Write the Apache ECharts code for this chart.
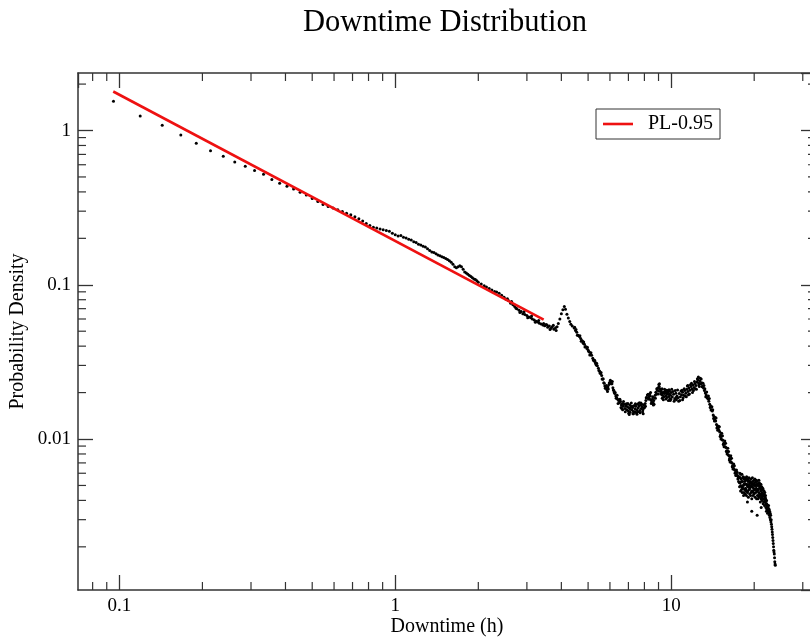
<!DOCTYPE html>
<html><head><meta charset="utf-8">
<script src="https://cdn.jsdelivr.net/npm/echarts@6/dist/echarts.min.js"></script>
<style>html,body{margin:0;padding:0;background:#fff}#c{width:810px;height:639px}</style>
</head><body><div id="c"></div>
<script>
// ---- data (downtime in hours, probability density) ----
const titleText = 'Downtime Distribution';
const xName = 'Downtime (h)';
const yName = 'Probability Density';
const legendName = 'PL-0.95';
const xMinorTicks = [0.08,0.09,0.2,0.3,0.4,0.5,0.6,0.7,0.8,0.9,2,3,4,5,6,7,8,9,20,30];
const yMinorTicks = [0.002,0.003,0.004,0.005,0.006,0.007,0.008,0.009,0.02,0.03,0.04,0.05,0.06,0.07,0.08,0.09,0.2,0.3,0.4,0.5,0.6,0.7,0.8,0.9,2];
const powerLawFit = [[0.095,1.79],[3.45,0.0595]];

const pointsShort = [[0.0952,1.55],[0.119,1.24],[0.143,1.08],[0.167,0.935],[0.190,0.828],[0.214,0.738],[0.238,0.681],[0.262,0.626],[0.286,0.587],[0.309,0.551],[0.333,0.521],[0.357,0.482],[0.381,0.455],[0.405,0.436],[0.428,0.418],[0.452,0.398],[0.476,0.382],[0.500,0.362],[0.524,0.346],[0.547,0.332],[0.571,0.322],[0.595,0.314],[0.619,0.306],[0.643,0.299],[0.666,0.291],[0.690,0.284],[0.714,0.276],[0.738,0.268],[0.762,0.259],[0.785,0.250],[0.809,0.242],[0.833,0.236],[0.857,0.233],[0.881,0.230],[0.904,0.227],[0.928,0.225],[0.952,0.222],[0.976,0.216],[1.000,0.211]];

const pointsMid = [[1.024,0.207],[1.048,0.209],[1.071,0.203],[1.095,0.201],[1.119,0.197],[1.143,0.195],[1.167,0.190],[1.190,0.188],[1.214,0.183],[1.238,0.181],[1.262,0.178],[1.286,0.176],[1.309,0.171],[1.333,0.167],[1.357,0.163],[1.381,0.162],[1.405,0.159],[1.428,0.156],[1.452,0.154],[1.476,0.152],[1.500,0.150],[1.524,0.148],[1.547,0.146],[1.571,0.143],[1.595,0.140],[1.619,0.136],[1.643,0.131],[1.666,0.129],[1.690,0.131],[1.714,0.133],[1.738,0.131],[1.762,0.126],[1.785,0.121],[1.809,0.119],[1.833,0.117],[1.857,0.115],[1.881,0.113],[1.904,0.111],[1.928,0.109],[1.952,0.108],[1.976,0.106],[2.000,0.104],
[2.05,0.101],[2.10,0.0985],[2.14,0.0968],[2.19,0.0945],[2.24,0.0925],[2.29,0.0905],[2.33,0.0898],[2.38,0.0880],[2.43,0.0855],[2.48,0.0830],[2.52,0.0805],[2.57,0.0790],[2.62,0.0760],[2.67,0.0742],[2.71,0.0722],[2.76,0.0700],[2.81,0.0683],[2.86,0.0672],[2.90,0.0650],[2.95,0.0641],[3.00,0.0632],[3.05,0.0618],[3.10,0.0612],[3.14,0.0600],[3.19,0.0592],[3.24,0.0580],[3.29,0.0573],[3.33,0.0562],[3.38,0.0556],[3.43,0.0548],[3.48,0.0542],[3.52,0.0552],[3.57,0.0530],[3.62,0.0541],[3.67,0.0522],[3.71,0.0535],[3.76,0.0515],[3.81,0.0527],[3.86,0.0534],[3.90,0.0560],[3.95,0.0600],[4.00,0.0648],[4.05,0.0690],[4.10,0.0722],[4.14,0.0695],[4.19,0.0645],[4.24,0.0610],[4.29,0.0578],[4.33,0.0555],[4.38,0.0540],
[2.55,0.0812],[2.64,0.0778],[2.74,0.0705],[2.83,0.0662],[2.93,0.0668],[3.02,0.0612],[3.12,0.0628],[3.22,0.0572],[3.31,0.0586],[3.45,0.0560],[3.55,0.0548],[3.64,0.0512],[3.74,0.0546],[3.83,0.0505]];

const pointsDrop = [[4.45,0.0525],[4.50,0.0505],[4.55,0.0492],[4.60,0.0470],[4.65,0.0462],[4.70,0.0448],[4.75,0.0436],[4.80,0.0418],[4.85,0.0412],[4.90,0.0398],[4.95,0.0386],[5.00,0.0378],[5.05,0.0366],[5.10,0.0352],[5.15,0.0349],[5.20,0.0334],[5.25,0.0322],[5.30,0.0316],[5.35,0.0302],[5.40,0.0298],[5.45,0.0288],[5.50,0.0276],[5.55,0.0266],[5.60,0.0258],[5.65,0.0244],[5.70,0.0232],[5.75,0.0221],[5.80,0.0214],[5.85,0.0209],[5.90,0.0218],[5.95,0.0226],[6.00,0.0232],[6.05,0.0237],[6.10,0.0228],[6.15,0.0215],[6.20,0.0206],[6.25,0.0197],[6.30,0.0190],[6.35,0.0185],[6.40,0.0181],[4.52,0.0512],[4.78,0.0428],[5.02,0.0370],[5.28,0.0324],[5.52,0.0268],[5.72,0.0230],[5.88,0.0203],[6.02,0.0240],[6.22,0.0200],
[4.47,0.0530],[4.57,0.0470],[4.67,0.0468],[4.72,0.0430],[4.82,0.0425],[4.87,0.0395],[4.97,0.0393],[5.07,0.0350],[5.12,0.0362],[5.22,0.0325],[5.32,0.0309],[5.37,0.0310],[5.47,0.0278],[5.57,0.0270],[5.62,0.0245],[5.67,0.0246],[5.77,0.0213],[5.82,0.0222],[5.92,0.0211],[5.97,0.0232],[6.07,0.0228],[6.12,0.0236],[6.17,0.0208],[6.27,0.0200],[6.32,0.0184],[6.37,0.0192]];

const pointsValley = [[6.45,0.0178],[6.50,0.0172],[6.55,0.0176],[6.60,0.0166],[6.65,0.0170],[6.70,0.0163],[6.75,0.0168],[6.80,0.0158],[6.85,0.0164],[6.90,0.0155],[6.95,0.0161],[7.00,0.0152],[7.05,0.0159],[7.10,0.0149],[7.15,0.0162],[7.20,0.0155],[7.25,0.0160],[7.30,0.0151],[7.35,0.0165],[7.40,0.0157],[7.45,0.0163],[7.50,0.0154],[7.55,0.0168],[7.60,0.0159],[7.65,0.0164],[7.70,0.0153],[7.75,0.0166],[7.80,0.0158],[7.85,0.0162],[7.90,0.0155],[7.95,0.0167],[8.00,0.0160],[8.05,0.0170],[8.10,0.0178],[8.15,0.0186],[8.20,0.0193],[6.58,0.0160],[6.88,0.0169],[7.12,0.0156],[7.38,0.0150],[7.62,0.0170],[7.88,0.0150],[7.08,0.0166],[7.48,0.0148],[7.05,0.0144],[7.30,0.0146],
[6.42,0.0170],[6.52,0.0181],[6.62,0.0158],[6.72,0.0175],[6.82,0.0150],[6.92,0.0168],[7.02,0.0147],[7.17,0.0171],[7.27,0.0146],[7.42,0.0169],[7.52,0.0145],[7.67,0.0172],[7.72,0.0148],[7.82,0.0168],[7.92,0.0146],[7.97,0.0159],[8.07,0.0163],[8.12,0.0185],[6.67,0.0155],[6.97,0.0170],[7.22,0.0163],[7.57,0.0150],[7.77,0.0171]];

const pointsPlateau = [[8.25,0.0195],[8.30,0.0188],[8.35,0.0182],[8.40,0.0190],[8.45,0.0179],[8.50,0.0174],[8.55,0.0181],[8.60,0.0172],[8.65,0.0178],[8.70,0.0185],[8.75,0.0192],[8.80,0.0201],[8.85,0.0196],[8.90,0.0208],[8.95,0.0214],[9.00,0.0205],[9.05,0.0219],[9.10,0.0212],[9.15,0.0203],[9.20,0.0208],[9.25,0.0198],[9.30,0.0192],[9.35,0.0201],[9.40,0.0188],[9.45,0.0197],[9.50,0.0204],[9.55,0.0191],[9.60,0.0199],[9.65,0.0186],[9.70,0.0195],[9.75,0.0202],[9.80,0.0189],[9.85,0.0196],[9.90,0.0183],[9.95,0.0192],[10.0,0.0200],[10.1,0.0187],[10.2,0.0195],[10.3,0.0182],[10.4,0.0198],[10.5,0.0190],[10.6,0.0185],[10.7,0.0197],[10.8,0.0188],[10.9,0.0194],[11.0,0.0201],[11.1,0.0192],[11.2,0.0206],[11.3,0.0198],[11.4,0.0210],[11.5,0.0203],[11.6,0.0214],[11.7,0.0207],[11.8,0.0219],[11.9,0.0211],[12.0,0.0224],[12.1,0.0216],[12.2,0.0229],[12.3,0.0222],[12.4,0.0234],[12.5,0.0241],[12.6,0.0230],[12.7,0.0238],[12.8,0.0228],[12.9,0.0232],[13.0,0.0221],[13.1,0.0214],[13.2,0.0206],[13.3,0.0199],[13.4,0.0193],[13.5,0.0185],
[8.42,0.0200],[8.62,0.0166],[9.02,0.0226],[9.28,0.0184],[9.62,0.0207],[9.92,0.0178],[10.15,0.0203],[10.45,0.0180],[10.75,0.0178],[11.05,0.0185],[11.25,0.0190],[11.55,0.0194],[11.75,0.0225],[12.05,0.0206],[12.25,0.0212],[12.45,0.0246],[12.65,0.0219],[12.85,0.0245],[13.05,0.0230],[13.25,0.0212],[11.45,0.0221],[10.95,0.0207],[10.35,0.0206],[9.82,0.0209],
[8.27,0.0182],[8.37,0.0196],[8.47,0.0170],[8.57,0.0188],[8.67,0.0168],[8.77,0.0184],[8.87,0.0212],[8.97,0.0196],[9.07,0.0228],[9.17,0.0196],[9.27,0.0212],[9.37,0.0180],[9.47,0.0210],[9.57,0.0182],[9.67,0.0206],[9.77,0.0178],[9.87,0.0205],[9.97,0.0181],[10.05,0.0210],[10.25,0.0176],[10.4,0.0186],[10.55,0.0208],[10.65,0.0176],[10.85,0.0205],[11.0,0.0180],[11.15,0.0212],[11.35,0.0188],[11.5,0.0222],[11.65,0.0196],[11.85,0.0230],[11.95,0.0200],[12.15,0.0236],[12.35,0.0210],[12.55,0.0252],[12.6,0.0224],[12.75,0.0248],[12.95,0.0218],[13.15,0.0222],[13.35,0.0188],[13.45,0.0202]];

const pointsFall = [[13.6,0.0182],[13.7,0.0176],[13.8,0.0168],[13.9,0.0164],[14.0,0.0155],[14.1,0.0152],[14.2,0.0143],[14.3,0.0140],[14.4,0.0133],[14.5,0.0131],[14.6,0.0124],[14.7,0.0122],[14.8,0.0117],[14.9,0.0114],[15.0,0.0111],[15.1,0.0106],[15.2,0.0104],[15.3,0.0099],[15.4,0.0098],[15.5,0.0094],[15.6,0.0093],[15.7,0.0089],[15.8,0.0088],[15.9,0.0084],[16.0,0.0083],[16.1,0.0079],[16.2,0.0078],[16.3,0.0075],[16.4,0.0074],[16.5,0.0071],[16.6,0.0070],[16.7,0.0067],[16.8,0.0066],[16.9,0.0064],[17.0,0.0063],[17.1,0.0061],[17.2,0.0060],[17.3,0.0058],[17.4,0.0058],[17.5,0.0056],[17.6,0.0056],
[13.75,0.0183],[13.95,0.0154],[14.15,0.0155],[14.35,0.0131],[14.55,0.0137],[14.75,0.0114],[14.95,0.0120],[15.15,0.0100],[15.35,0.0105],[15.55,0.0089],[15.75,0.0094],[15.95,0.0080],[16.15,0.0083],[16.35,0.0071],[16.55,0.0075],[16.75,0.0064],[16.95,0.0067],[17.15,0.0058],[17.35,0.0061],[17.55,0.0053],
[13.65,0.0190],[13.85,0.0160],[14.05,0.0162],[14.25,0.0136],[14.45,0.0138],[14.65,0.0118],[14.85,0.0121],[15.05,0.0104],[15.25,0.0109],[15.45,0.0092],[15.65,0.0097],[15.85,0.0083],[16.05,0.0087],[16.25,0.0073],[16.45,0.0078],[16.65,0.0066],[16.85,0.0069],[17.05,0.0060],[17.25,0.0063],[17.45,0.0055]];

const pointsShoulder = [[17.65,0.0057],[17.70,0.0049],[17.75,0.0060],[17.80,0.0052],[17.85,0.0046],[17.90,0.0059],[17.95,0.0055],[18.00,0.0047],[18.05,0.0059],[18.10,0.0045],[18.15,0.0053],[18.20,0.0048],[18.25,0.0057],[18.30,0.0043],[18.35,0.0051],[18.40,0.0055],[18.45,0.0047],[18.50,0.0056],[18.55,0.0044],[18.60,0.0048],[18.65,0.0054],[18.70,0.0046],[18.75,0.0043],[18.80,0.0051],[18.85,0.0055],[18.90,0.0045],[18.95,0.0049],[19.00,0.0053],[19.05,0.0042],[19.10,0.0050],[19.15,0.0056],[19.20,0.0047],[19.25,0.0044],[19.30,0.0052],[19.35,0.0049],[19.40,0.0043],[19.45,0.0055],[19.50,0.0045],[19.55,0.0052],[19.60,0.0041],[19.65,0.0049],[19.70,0.0056],[19.75,0.0046],[19.80,0.0043],[19.85,0.0051],[19.90,0.0048],[19.95,0.0054],[20.00,0.0044],[20.05,0.0047],[20.10,0.0055],[20.15,0.0042],[20.20,0.0050],[20.25,0.0045],[20.30,0.0053],[20.35,0.0048],[20.40,0.0041],[20.45,0.0051],[20.50,0.0053],[20.55,0.0043],[20.60,0.0047],[20.65,0.0041],[20.70,0.0051],[20.75,0.0045],[20.80,0.0054],[20.85,0.0042],[20.90,0.0049],[20.95,0.0044],[21.00,0.0050],[21.05,0.0039],[21.10,0.0046],[21.15,0.0051],[21.20,0.0041],[21.25,0.0044],[21.30,0.0049],[21.35,0.0040],[21.40,0.0047],[21.45,0.0043],[21.50,0.0047],[21.55,0.0038],[21.60,0.0043],[21.65,0.0039],[21.70,0.0046],[21.75,0.0041],[21.80,0.0037],[21.85,0.0045],[21.90,0.0042],[21.95,0.0039],[22.00,0.0041],[22.05,0.0036],[22.10,0.0040],[22.15,0.0034],[22.20,0.0038],[22.25,0.0035],[22.30,0.0037],[22.35,0.0033],[22.40,0.0035],
[17.68,0.0052],[17.78,0.0056],[17.88,0.0050],[17.98,0.0053],[18.08,0.0049],[18.18,0.0056],[18.28,0.0050],[18.38,0.0045],[18.48,0.0053],[18.58,0.0051],[18.68,0.0047],[18.78,0.0057],[18.88,0.0050],[18.98,0.0046],[19.08,0.0054],[19.18,0.0051],[19.28,0.0048],[19.38,0.0053],[19.48,0.0050],[19.58,0.0046],[19.68,0.0051],[19.78,0.0053],[19.88,0.0045],[19.98,0.0050],[20.08,0.0052],[20.18,0.0047],[20.28,0.0050],[20.38,0.0054],[20.48,0.0046],[20.58,0.0050],[20.68,0.0047],[20.78,0.0043],[20.88,0.0052],[20.98,0.0048],[21.08,0.0043],[21.18,0.0047],[21.28,0.0042],[21.38,0.0045],[21.48,0.0048],[21.58,0.0041],[21.68,0.0044],[21.78,0.0043],[21.88,0.0040],[21.98,0.0043],[22.08,0.0038],[22.18,0.0040],[22.28,0.0036],[22.38,0.0037],
[19.6,0.0034],[20.5,0.0032],[18.9,0.0039],[21.2,0.0036]];

const pointsTail = [[22.45,0.0036],[22.50,0.0034],[22.55,0.0037],[22.60,0.0033],[22.65,0.0035],[22.70,0.0032],[22.75,0.0034],[22.80,0.0031],[22.85,0.0033],[22.90,0.0030],[22.95,0.0032],[23.00,0.0029],[23.05,0.0030],[23.10,0.0028],[23.15,0.0027],[23.20,0.0026],[23.25,0.0025],[23.30,0.0024],[23.35,0.0023],[23.40,0.0022],[23.45,0.0021],[23.50,0.0020],[23.55,0.0019],[23.60,0.00185],[23.65,0.0018],[23.70,0.0017],[23.75,0.0016],[23.80,0.00155],[23.85,0.00152]];

const scatterData = [].concat(pointsShort, pointsMid, pointsDrop, pointsValley, pointsPlateau, pointsFall, pointsShoulder, pointsTail);

// ---- style ----
const FONT = 'Liberation Serif';
const AX = '#333';
const MAJOR = 15, MINOR = 8;
const X_MIN = 0.0708, X_MAX = 33.5, Y_MIN = 0.00105, Y_MAX = 2.36;

function fmt(v) {
  const l = Math.log10(v);
  if (Math.abs(l - Math.round(l)) > 1e-6) return '';
  return String(+Number(v).toPrecision(4));
}

const baseAxis = {
  type: 'log', logBase: 10,
  axisLine: { show: true, onZero: false, lineStyle: { color: AX, width: 1.5 } },
  axisTick: { show: true, inside: true, length: MAJOR, lineStyle: { color: AX, width: 1.3 } },
  splitLine: { show: false },
  minorTick: { show: false }
};

function minorXItem(params, api) {
  const cs = params.coordSys;
  const x = api.coord([api.value(0), 1])[0];
  const yb = cs.y + cs.height, yt = cs.y;
  const st = { stroke: AX, lineWidth: 1.2 };
  return { type: 'group', children: [
    { type: 'line', shape: { x1: x, y1: yb, x2: x, y2: yb - MINOR }, style: st },
    { type: 'line', shape: { x1: x, y1: yt, x2: x, y2: yt + MINOR }, style: st }
  ]};
}
function minorYItem(params, api) {
  const cs = params.coordSys;
  const y = api.coord([1, api.value(1)])[1];
  const xl = cs.x, xr = cs.x + cs.width;
  const st = { stroke: AX, lineWidth: 1.2 };
  return { type: 'group', children: [
    { type: 'line', shape: { x1: xl, y1: y, x2: xl + MINOR, y2: y }, style: st },
    { type: 'line', shape: { x1: xr, y1: y, x2: xr - MINOR, y2: y }, style: st }
  ]};
}

const chart = echarts.init(document.getElementById('c'), null, { renderer: 'canvas' });
chart.setOption({
  animation: false,
  backgroundColor: '#fff',
  title: {
    text: titleText, left: 440, top: 2, textAlign: 'center',
    textStyle: { fontFamily: FONT, fontSize: 30.5, fontWeight: 'normal', color: '#000' }
  },
  legend: {
    data: [legendName], left: 596, top: 109, icon: 'rect',
    padding: [5, 7, 5, 7], itemWidth: 30, itemHeight: 2.6,
    borderColor: AX, borderWidth: 1, backgroundColor: '#fff',
    textStyle: { fontFamily: FONT, fontSize: 20, color: '#000', padding: [0, 0, 0, 10] }
  },
  grid: { left: 78, right: -6, top: 73, bottom: 49, outerBoundsMode: 'none', containLabel: false },
  xAxis: [
    Object.assign({}, baseAxis, {
      position: 'bottom', min: X_MIN, max: X_MAX,
      name: xName, nameLocation: 'middle', nameGap: 27, nameMoveOverlap: false,
      nameTextStyle: { fontFamily: FONT, fontSize: 20, color: '#000' },
      axisLabel: { show: true, formatter: fmt, margin: 7, fontFamily: FONT, fontSize: 19, color: '#000', showMinLabel: false, showMaxLabel: false }
    }),
    Object.assign({}, baseAxis, {
      position: 'top', min: X_MIN, max: X_MAX, axisLabel: { show: false }
    })
  ],
  yAxis: [
    Object.assign({}, baseAxis, {
      position: 'left', min: Y_MIN, max: Y_MAX,
      name: yName, nameLocation: 'middle', nameGap: 50, nameRotate: 90, nameMoveOverlap: false,
      nameTextStyle: { fontFamily: FONT, fontSize: 20, color: '#000' },
      axisLabel: { show: true, formatter: fmt, margin: 7, fontFamily: FONT, fontSize: 19, color: '#000', showMinLabel: false, showMaxLabel: false }
    }),
    Object.assign({}, baseAxis, {
      position: 'right', min: Y_MIN, max: Y_MAX, axisLabel: { show: false }
    })
  ],
  series: [
    { type: 'custom', name: 'xminor', xAxisIndex: 0, yAxisIndex: 0, silent: true, clip: false,
      renderItem: minorXItem, data: xMinorTicks.map(v => [v, 1]) },
    { type: 'custom', name: 'yminor', xAxisIndex: 0, yAxisIndex: 0, silent: true, clip: false,
      renderItem: minorYItem, data: yMinorTicks.map(v => [1, v]) },
    { type: 'scatter', name: 'data', xAxisIndex: 0, yAxisIndex: 0, silent: true,
      symbol: 'circle', symbolSize: 3, itemStyle: { color: '#000', opacity: 1 },
      data: scatterData, z: 3 },
    { type: 'line', name: legendName, xAxisIndex: 0, yAxisIndex: 0, silent: true,
      symbol: 'none', data: powerLawFit, z: 4,
      lineStyle: { color: '#ee1111', width: 2.6 }, itemStyle: { color: '#ee1111' } }
  ]
});
</script></body></html>
